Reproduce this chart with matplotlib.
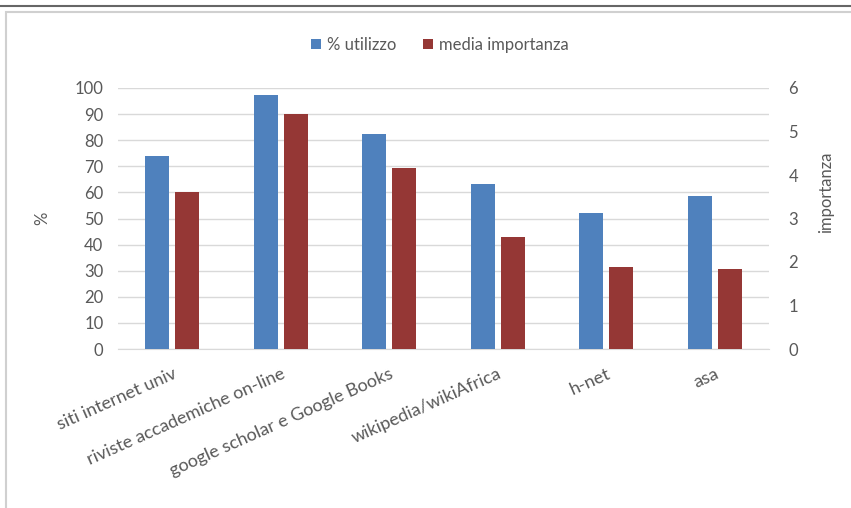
import matplotlib.pyplot as plt
import numpy as np
from matplotlib.patches import Rectangle
from matplotlib.lines import Line2D

categorie = ['siti internet univ', 'riviste accademiche on-line',
             'google scholar e Google Books', 'wikipedia/wikiAfrica', 'h-net', 'asa']
utilizzo = [73.8, 97.4, 82.5, 63.2, 52.2, 58.5]
importanza = [3.62, 5.41, 4.15, 2.58, 1.89, 1.84]

blu = '#4F81BD'
rosso = '#953735'
grigio = '#595959'
fs = 12

plt.rcParams['font.family'] = ['Lato', 'DejaVu Sans']

fig = plt.figure(figsize=(8.51, 5.08), dpi=100)
ax = fig.add_axes([118/851, 1-349/508, (769-118)/851, (349-88)/508])
ax2 = ax.twinx()

x = np.arange(len(categorie))
w = 0.22
gap = 0.055
b1 = ax.bar(x - (w+gap)/2, utilizzo, w, color=blu, zorder=3)
b2 = ax2.bar(x + (w+gap)/2, importanza, w, color=rosso, zorder=3)

ax.set_xlim(-0.5, len(categorie)-0.5)
ax.set_ylim(0, 100)
ax.set_yticks(range(0, 101, 10))
ax2.set_ylim(0, 6)
ax2.set_yticks(range(0, 7))
ax.grid(axis='y', color='#d9d9d9', linewidth=1, zorder=0)
ax.set_axisbelow(True)

for a in (ax, ax2):
    for s in a.spines.values():
        s.set_visible(False)
ax.spines['bottom'].set_visible(True)
ax.spines['bottom'].set_color('#d9d9d9')

ax.tick_params(axis='y', length=0, pad=10.5, labelsize=fs, labelcolor=grigio)
ax2.tick_params(axis='y', length=0, pad=14, labelsize=fs, labelcolor=grigio)
ax.set_xticks(x)
ax.set_xticklabels(categorie, rotation=24, ha='right', rotation_mode='anchor',
                   fontsize=13, color=grigio)
ax.tick_params(axis='x', length=0, pad=12)

ax.set_ylabel('%', fontsize=fs, color=grigio)
ax.yaxis.set_label_coords(-0.104, 0.5)
ax2.set_ylabel('importanza', fontsize=fs, color=grigio)
ax2.yaxis.set_label_coords(1.075, 0.60)

fig.legend((b1[0], b2[0]), ('% utilizzo', 'media importanza'), loc='center',
           bbox_to_anchor=(440/851, 1-45/508), ncol=2, frameon=False,
           fontsize=fs, labelcolor=grigio, handlelength=0.6, handleheight=0.6,
           handletextpad=0.35, columnspacing=1.6)

# cornice
fig.add_artist(Line2D([0, 1], [1-6/508, 1-6/508], color='#666666', linewidth=1.5,
                      transform=fig.transFigure))
fig.add_artist(Rectangle((6/851, -0.05), 1.0, 1-12/508+0.05, fill=False,
                         edgecolor='#d0d0d0', linewidth=1.5, transform=fig.transFigure))

plt.savefig('out.png', dpi=100)
